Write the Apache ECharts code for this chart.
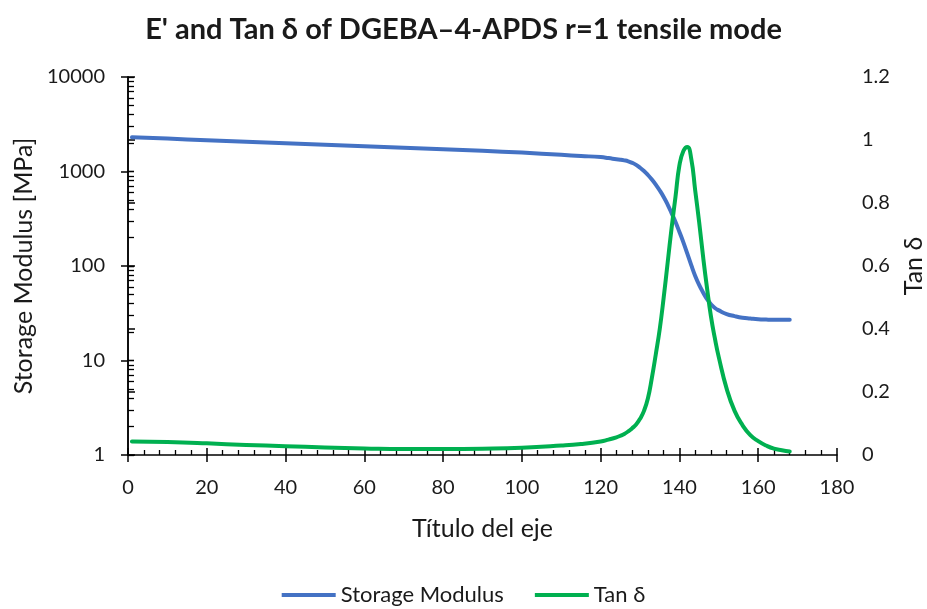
<!DOCTYPE html>
<html>
<head>
<meta charset="utf-8">
<script src="https://cdn.jsdelivr.net/npm/echarts@6/dist/echarts.min.js"></script>
<style>
html,body{margin:0;padding:0;background:#fff;}
#chart{width:927px;height:609px;}
</style>
</head>
<body>
<div id="chart"></div>
<script>
const titleText = "E' and Tan δ of DGEBA–4-APDS r=1 tensile mode";
const xAxisName = "Título del eje";
const leftAxisName = "Storage Modulus [MPa]";
const rightAxisName = "Tan δ";
const seriesNames = ["Storage Modulus", "Tan δ"];

const temperature = [1, 10, 20, 30, 40, 50, 60, 70, 80, 90, 100, 110, 115, 120, 122, 124, 125, 126, 127, 128, 129, 130, 131, 132, 133, 134, 135, 136, 137, 138, 139, 140, 141, 142, 143, 144, 145, 146, 147, 148, 149, 150, 152, 154, 156, 158, 160, 162, 164, 166, 168];

const storageModulus = [2300, 2230, 2140, 2060, 1990, 1920, 1850, 1785, 1720, 1655, 1585, 1500, 1460, 1420, 1387, 1349, 1334, 1312, 1282, 1236, 1175, 1096, 1012, 918, 822, 725, 630, 537, 447, 363, 292, 229, 178, 135, 102, 78.5, 63, 52.5, 44.7, 39.4, 35.9, 33.9, 31, 29.5, 28.4, 27.8, 27.3, 27.1, 27.0, 27.0, 27.0];

const tanDelta = [0.043, 0.041, 0.037, 0.032, 0.028, 0.024, 0.021, 0.019, 0.019, 0.020, 0.023, 0.030, 0.035, 0.043, 0.049, 0.056, 0.061, 0.067, 0.075, 0.085, 0.097, 0.115, 0.14, 0.18, 0.245, 0.32, 0.40, 0.50, 0.61, 0.72, 0.82, 0.92, 0.965, 0.978, 0.94, 0.84, 0.74, 0.63, 0.53, 0.44, 0.37, 0.31, 0.21, 0.14, 0.095, 0.063, 0.044, 0.030, 0.020, 0.015, 0.011];

const xMin = 0, xMax = 180, xInterval = 20;
const logMin = 1, logMax = 10000;
const tanMin = 0, tanMax = 1.2, tanInterval = 0.2;

// minor tick positions for log axis (1..10 per decade)
const logMinorTicks = [];
for (let d = logMin; d < logMax; d *= 10) {
  for (let k = 1; k <= 10; k++) logMinorTicks.push(k * d);
}

const FONT = 'Lato';
const TXT = '#1a1a1a';
const AX = '#000';

const chart = echarts.init(document.getElementById('chart'), null, {renderer: 'canvas'});
chart.setOption({
  backgroundColor: '#fff',
  animation: false,
  textStyle: {fontFamily: FONT},
  title: {
    text: titleText,
    left: 'center',
    top: 10,
    textStyle: {fontFamily: FONT, fontSize: 29, fontWeight: 'bold', color: TXT}
  },
  legend: {
    top: 579,
    left: 'center',
    itemWidth: 54,
    itemHeight: 4,
    itemGap: 31,
    icon: 'rect',
    textStyle: {fontFamily: FONT, fontSize: 22, color: TXT},
    data: seriesNames
  },
  grid: {left: 128, right: 90, top: 77, bottom: 154, containLabel: false, outerBoundsMode: 'none'},
  xAxis: [
    {
      type: 'value', min: xMin, max: xMax, interval: xInterval, position: 'bottom',
      name: xAxisName, nameLocation: 'middle', nameGap: 61,
      nameTextStyle: {fontFamily: FONT, fontSize: 25, color: TXT},
      axisLine: {show: true, onZero: false, lineStyle: {color: AX, width: 1.5}},
      axisTick: {show: true, inside: false, length: 7, lineStyle: {color: AX, width: 1.5}},
      axisLabel: {show: true, margin: 23, fontFamily: FONT, fontSize: 20, color: TXT},
      splitLine: {show: false}
    },
    {
      type: 'value', min: xMin, max: xMax, interval: xInterval, position: 'bottom',
      axisLine: {show: false, onZero: false},
      axisTick: {show: true, inside: true, length: 7, lineStyle: {color: AX, width: 1.5}},
      minorTick: {show: true, splitNumber: 5, length: 5, lineStyle: {color: AX, width: 1.3}},
      axisLabel: {show: false},
      splitLine: {show: false}
    }
  ],
  yAxis: [
    {
      type: 'log', logBase: 10, min: logMin, max: logMax, position: 'left',
      name: leftAxisName, nameLocation: 'middle', nameGap: 92, nameRotate: 90,
      nameTextStyle: {fontFamily: FONT, fontSize: 25, color: TXT},
      axisLine: {show: true, lineStyle: {color: AX, width: 1.5}},
      axisTick: {show: true, inside: false, length: 7, lineStyle: {color: AX, width: 1.5}},
      axisLabel: {show: true, margin: 23, fontFamily: FONT, fontSize: 20, color: TXT,
        formatter: v => String(Math.round(v))},
      splitLine: {show: false}
    },
    {
      type: 'value', min: tanMin, max: tanMax, interval: tanInterval, position: 'right',
      name: rightAxisName, nameLocation: 'middle', nameGap: 64, nameRotate: 90,
      nameTextStyle: {fontFamily: FONT, fontSize: 25, color: TXT},
      axisLine: {show: true, lineStyle: {color: AX, width: 1.5}},
      axisTick: {show: true, inside: false, length: 7, lineStyle: {color: AX, width: 1.5}},
      axisLabel: {show: true, margin: 25, fontFamily: FONT, fontSize: 20, color: TXT},
      splitLine: {show: false}
    },
    {
      type: 'log', logBase: 10, min: logMin, max: logMax, position: 'left',
      axisLine: {show: false},
      axisTick: {show: true, inside: true, length: 6, customValues: logMinorTicks, lineStyle: {color: AX, width: 1.3}},
      axisLabel: {show: false},
      splitLine: {show: false}
    }
  ],
  series: [
    {
      name: seriesNames[0], type: 'line', xAxisIndex: 0, yAxisIndex: 0,
      data: temperature.map((t, i) => [t, storageModulus[i]]),
      symbol: 'none', smooth: 0.5,
      lineStyle: {color: '#4472C4', width: 4, cap: 'round', join: 'round'},
      itemStyle: {color: '#4472C4'}
    },
    {
      name: seriesNames[1], type: 'line', xAxisIndex: 0, yAxisIndex: 1,
      data: temperature.map((t, i) => [t, tanDelta[i]]),
      symbol: 'none', smooth: 0.5,
      lineStyle: {color: '#00B050', width: 4, cap: 'round', join: 'round'},
      itemStyle: {color: '#00B050'}
    }
  ]
});
</script>
</body>
</html>
